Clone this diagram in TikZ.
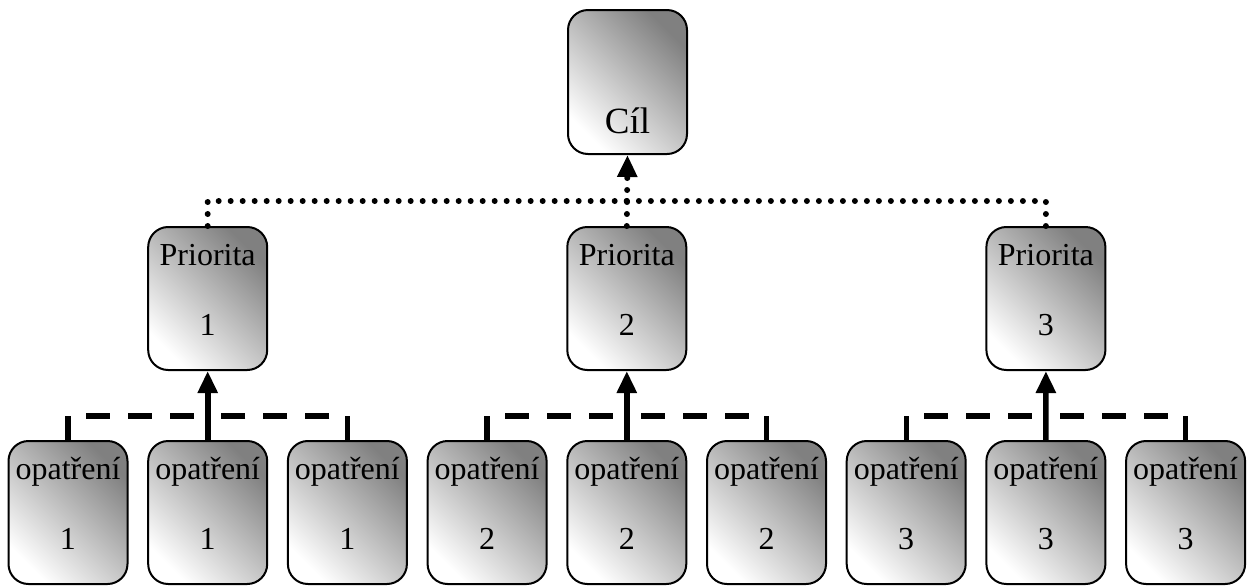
\documentclass[tikz,border=0pt]{standalone}
\usepackage{fontspec}
\setmainfont{Liberation Serif}
\usetikzlibrary{arrows.meta,positioning,calc}

\tikzset{
	blok/.style={draw, line width=1pt, rounded corners=10pt, inner sep=0pt,
		left color=white, right color=black!50, shading angle=135},
	tecky/.style={line width=3pt, line cap=round, dash pattern=on 0pt off 6pt},
	carky/.style={line width=2.7pt, dash pattern=on 12pt off 9pt},
	sipka/.style={-{Triangle[length=11pt,width=9.5pt]}}
}
% text inside one box: top line, gap, number
\newcommand{\obsah}[2]{\parbox[c][71.5pt][t]{59.5pt}{\centering\fontsize{16}{19}\selectfont\rule{0pt}{19pt}#1\\[16pt]#2}}

\begin{document}
\begin{tikzpicture}[x=0.5pt, y=-0.5pt]
		\useasboundingbox (0,0) rectangle (1255,585);
		\node[blok] (cil) at (627.5,82) {\parbox[c][72pt][t]{59.5pt}{\centering\fontsize{18.5}{22}\selectfont\rule{0pt}{61.5pt}Cíl}};
		\node[blok] (p1) at (207.7,298.5) {\obsah{Priorita}{1}};
		\node[blok] (p2) at (626.8,298.5) {\obsah{Priorita}{2}};
		\node[blok] (p3) at (1045.9,298.5) {\obsah{Priorita}{3}};
		\foreach \i in {1,2,3}
			\foreach \j in {1,2,3}
				\node[blok] (o\i\j) at ({68+139.7*(3*(\i-1)+\j-1)},512.5) {\obsah{opatření}{\i}};
		\foreach \i in {1,2,3}{
			\draw[carky] (o\i1.north) |- ([yshift=12pt]o\i2.north);
			\draw[carky] (o\i3.north) |- ([yshift=12pt]o\i2.north);
			\draw[line width=2.8pt, sipka] (o\i2.north) -- (p\i.south);
		}
		\draw[tecky] (p1.north) |- ([yshift=12.5pt]p2.north);
		\draw[tecky] (p3.north) |- ([yshift=12.5pt]p2.north);
		\draw[tecky, sipka] (p2.north) -- (cil.south);
	\end{tikzpicture}
\end{document}
